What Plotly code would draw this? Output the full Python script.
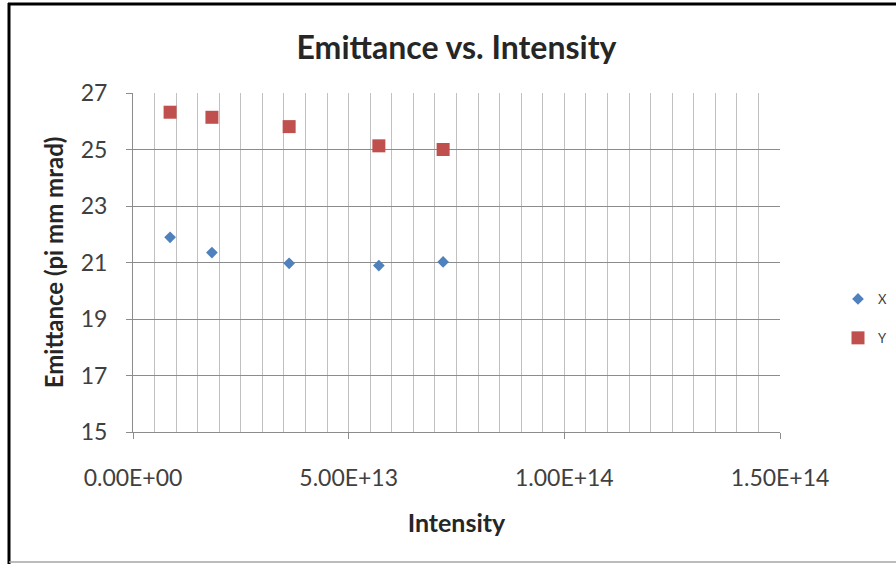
import plotly.graph_objects as go

# Measured beam emittance at several intensities
intensity = [8.6e12, 1.83e13, 3.62e13, 5.7e13, 7.19e13]
emit_x = [21.89, 21.35, 20.97, 20.89, 21.02]
emit_y = [26.32, 26.14, 25.81, 25.13, 25.0]

x_tick_vals = [0, 5e13, 1e14, 1.5e14]
x_tick_text = ["0.00E+00", "5.00E+13", "1.00E+14", "1.50E+14"]
y_tick_vals = [15, 17, 19, 21, 23, 25, 27]

W, H = 896, 564
L, R, T, B = 133, 116, 93, 132
pw, ph = W - L - R, H - T - B

FONT = "Lato"

fig = go.Figure()
fig.add_trace(go.Scatter(
    x=intensity, y=emit_x, mode="markers", name="X", legendgroup="x",
    marker=dict(symbol="diamond", size=9, color="#4F81BD"),
))
fig.add_trace(go.Scatter(
    x=intensity, y=emit_y, mode="markers", name="Y", legendgroup="y",
    marker=dict(symbol="square", size=13, color="#C0504D"),
))


def px_x(px):
    return (px - L) / pw


def px_y(py):
    return (H - B - py) / ph


# frame edges around the chart area
shapes = [
    dict(type="line", xref="paper", yref="paper", x0=px_x(8), x1=px_x(896),
         y0=px_y(4), y1=px_y(4), line=dict(color="#000000", width=3)),
    dict(type="line", xref="paper", yref="paper", x0=px_x(9), x1=px_x(9),
         y0=px_y(3), y1=px_y(564), line=dict(color="#000000", width=3)),
    dict(type="line", xref="paper", yref="paper", x0=px_x(9), x1=px_x(896),
         y0=px_y(562), y1=px_y(562), line=dict(color="#a6a6a6", width=1.5)),
]

fig.update_layout(
    width=W, height=H,
    margin=dict(l=L, r=R, t=T, b=B, autoexpand=False),
    paper_bgcolor="white", plot_bgcolor="white",
    font=dict(family=FONT, color="#404040"),
    title=dict(text="<b>Emittance vs. Intensity</b>", x=(L + pw / 2) / W, xanchor="center",
               y=1 - 48 / H, yanchor="middle", yref="container",
               font=dict(family=FONT, size=32, color="#262626")),
    xaxis=dict(
        range=[0, 1.5e14], tickvals=x_tick_vals, ticktext=x_tick_text,
        showgrid=True, gridcolor="#c0c0c0", gridwidth=1,
        minor=dict(dtick=5e12, tick0=0, showgrid=True, gridcolor="#c0c0c0", gridwidth=1, ticks=""),
        showline=True, linecolor="#8c8c8c", linewidth=1,
        ticks="outside", ticklen=6, tickcolor="#8c8c8c",
        ticklabelstandoff=19,
        tickfont=dict(family=FONT, size=23, color="#404040"),
        title=dict(text="<b>Intensity</b>", standoff=24,
                   font=dict(family=FONT, size=25, color="#262626")),
        zeroline=False,
    ),
    yaxis=dict(
        range=[15, 27], tickvals=y_tick_vals,
        showgrid=True, gridcolor="#8c8c8c", gridwidth=1,
        showline=True, linecolor="#8c8c8c", linewidth=1,
        ticks="outside", ticklen=6, tickcolor="#8c8c8c",
        ticklabelstandoff=14,
        tickfont=dict(family=FONT, size=23, color="#404040"),
        title=dict(text="<b>Emittance (pi mm mrad)</b>", standoff=10,
                   font=dict(family=FONT, size=24, color="#262626")),
        zeroline=False,
    ),
    legend=dict(
        x=px_x(838), y=px_y(284), xanchor="left", yanchor="top",
        traceorder="grouped", tracegroupgap=19,
        font=dict(family=FONT, size=13, color="#404040"),
        bgcolor="rgba(0,0,0,0)",
    ),
    shapes=shapes,
)

fig.write_html("out.html")
